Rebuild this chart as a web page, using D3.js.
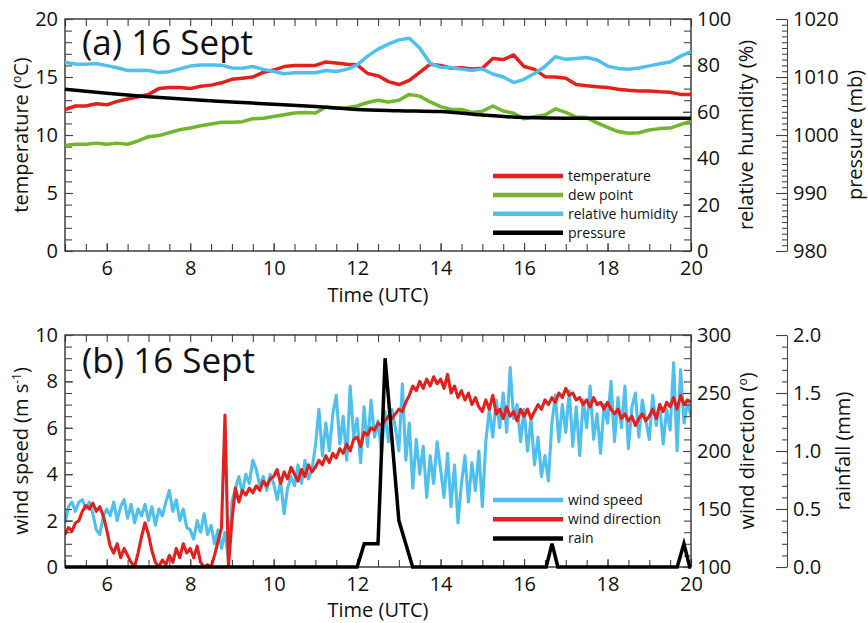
<!DOCTYPE html>
<html>
<head>
<meta charset="utf-8">
<script src="https://cdn.jsdelivr.net/npm/d3@7"></script>
<style>
body { margin: 0; background: #fff; }
text { font-family: "Open Sans", sans-serif; fill: #111; }
</style>
</head>
<body>
<svg id="chart" width="868" height="623"></svg>
<script>
// ---- panel (a): 15 minute values ----
var timeA = [5,5.25,5.5,5.75, 6,6.25,6.5,6.75, 7,7.25,7.5,7.75, 8,8.25,8.5,8.75,
  9,9.25,9.5,9.75, 10,10.25,10.5,10.75, 11,11.25,11.5,11.75, 12,12.25,12.5,12.75,
  13,13.25,13.5,13.75, 14,14.25,14.5,14.75, 15,15.25,15.5,15.75, 16,16.25,16.5,16.75,
  17,17.25,17.5,17.75, 18,18.25,18.5,18.75, 19,19.25,19.5,19.75, 20];
var temperature = [12.2,12.5,12.5,12.7, 12.6,12.9,13.1,13.3, 13.5,14.0,14.1,14.1, 14.0,14.2,14.3,14.5,
  14.8,14.9,15.0,15.4, 15.6,15.9,16.0,16.0, 16.0,16.3,16.2,16.1, 16.05,15.3,15.1,14.6,
  14.35,14.7,15.4,16.1, 16.0,15.75,15.8,15.7, 15.75,16.6,16.5,16.9, 15.9,15.66,15.03,15.0,
  14.9,14.35,14.25,14.15, 14.1,13.95,13.85,13.8, 13.8,13.72,13.68,13.5, 13.5];
var dewPoint = [9.1,9.2,9.2,9.3, 9.2,9.3,9.2,9.5, 9.85,9.95,10.2,10.45, 10.6,10.8,10.95,11.1,
  11.1,11.15,11.4,11.45, 11.6,11.75,11.9,11.95, 11.9,12.4,12.3,12.35, 12.5,12.8,13.0,12.85,
  13.0,13.5,13.35,12.85, 12.45,12.2,12.2,11.95, 12.05,12.5,12.07,11.87, 11.4,11.58,11.72,12.25,
  11.95,11.55,11.5,11.05, 10.65,10.3,10.15,10.2, 10.43,10.55,10.6,10.9, 11.2];
var humidity = [81.3,80.6,80.5,80.8, 79.9,79.0,77.8,77.9, 77.8,76.9,77.3,78.5, 79.7,80.2,80.2,80.1,
  78.9,78.8,79.5,78.3, 77.4,76.4,76.8,76.9, 76.8,77.8,77.4,78.3, 80.2,84.0,87.0,89.2,
  91.0,91.7,87.5,80.9, 79.2,79.0,78.4,77.8, 78.5,76.3,75.0,72.6, 74.0,76.5,79.5,83.7,
  82.6,83.0,83.4,82.3, 79.7,78.7,78.3,78.9, 79.8,80.7,81.5,84.0, 85.9];
var pressureTime = [5,6,7,8,9,10,11,12,13,14,15,16,17,18,19,20];
var pressure = [1007.9,1007.2,1006.6,1006.1,1005.7,1005.3,1004.9,1004.4,1004.2,1004.05,1003.45,1003.0,1002.9,1002.9,1002.9,1002.9];

// ---- panel (b): 5 minute wind values, one row per hour ----
var windStart = 5, windStep = 5 / 60;
var windSpeed = [
  1.9,2.6,2.8,2.4,2.8,2.9,2.5,2.8,2.3,1.6,1.4,2.2,
  2.5,2.2,2.8,2.0,2.6,2.9,2.1,2.7,1.9,2.5,2.2,2.7,
  2.0,2.6,1.8,2.5,2.2,2.8,3.3,2.4,2.9,2.0,2.5,1.7,
  1.6,1.2,2.0,1.5,2.3,1.4,1.8,1.0,1.6,0.8,1.5,0.3,
  2.8,3.4,3.9,3.2,4.0,3.6,4.6,4.2,3.5,3.9,3.3,4.0,
  3.6,2.9,3.7,2.3,3.4,3.9,3.5,4.4,3.6,4.6,3.8,4.2,
  5.2,6.8,4.8,6.2,5.0,6.6,7.4,5.3,6.5,4.6,7.8,5.6,
  6.4,4.5,6.9,5.2,7.2,5.6,6.3,4.9,6.7,5.4,6.8,6.0,
  5.0,7.9,4.6,6.2,3.4,5.5,4.0,5.2,3.0,4.8,3.6,5.4,
  4.2,3.0,4.9,2.6,4.4,1.9,3.6,4.8,2.8,4.5,3.3,5.0,
  2.6,5.4,6.8,5.6,7.2,6.0,7.5,5.8,8.6,6.4,7.0,5.4,
  6.8,5.0,6.4,4.4,5.6,3.9,4.8,3.7,6.2,7.4,5.4,7.0,
  5.8,7.6,5.2,6.9,4.8,7.2,6.0,7.8,5.5,6.6,4.9,7.0,
  6.2,8.0,5.4,7.3,6.0,7.8,5.1,6.9,7.5,5.6,7.2,6.3,
  5.5,7.4,6.1,7.0,5.3,6.8,5.9,8.8,5.0,8.5,6.2,7.1,
  6.5];
var windDir = [
  128,134,131,138,140,148,153,150,155,148,152,144,
  132,118,112,120,108,116,110,104,100,112,126,138,
  128,114,104,100,106,102,110,104,116,108,120,112,
  116,108,118,104,100,102,100,110,122,134,231,100,
  140,168,156,166,162,168,164,170,166,174,170,176,
  178,184,172,182,176,186,180,174,184,178,188,182,
  186,192,188,196,190,198,194,202,198,206,200,210,
  212,204,216,214,220,218,224,222,226,230,228,232,
  236,234,242,248,256,252,260,254,262,256,264,258,
  262,254,266,250,256,246,252,244,250,240,246,238,
  234,244,236,248,232,236,228,238,230,234,226,236,
  230,236,228,234,240,236,244,240,246,242,250,246,
  254,248,250,244,246,240,244,238,246,240,242,236,
  242,236,232,236,228,232,226,230,222,228,232,226,
  230,236,228,240,234,242,238,246,236,248,240,244,
  242];
var rainTime = [5,12.0,12.17,12.5,12.67,13.0,13.33,16.53,16.67,16.81,19.67,19.83,19.97,20];
var rain = [0,0,0.2,0.2,1.8,0.4,0,0,0.2,0,0,0.2,0,0];

var hourLabels = [6,8,10,12,14,16,18,20];

var RED = '#e3201b', GREEN = '#72b62c', BLUE = '#4fc0ee', BLACK = '#000';
var FONT = '"Open Sans", sans-serif';

var svg = d3.select('#chart');
var left = 65, right = 691;
var x = d3.scaleLinear().domain([5, 20]).range([left, right]);

function styleAxis(g) {
  g.attr('font-family', FONT).attr('font-size', 20);
  g.selectAll('line').attr('stroke', '#444').attr('stroke-width', 1.1);
  g.selectAll('text').attr('fill', '#111');
}
function noDomain(g) { g.select('.domain').remove(); }

// frame + x axes (ticks inside on top and bottom)
function drawFrame(top, bottom) {
  var minor = d3.range(5, 20.01, 0.5);
  svg.append('g').attr('transform', 'translate(0,' + bottom + ')')
    .call(d3.axisBottom(x).tickValues(minor).tickSize(-7).tickFormat(''))
    .call(noDomain).call(styleAxis);
  svg.append('g').attr('transform', 'translate(0,' + bottom + ')')
    .call(d3.axisBottom(x).tickValues(hourLabels).tickSize(-8).tickPadding(10).tickFormat(d3.format('d')))
    .call(noDomain).call(styleAxis);
  svg.append('g').attr('transform', 'translate(0,' + top + ')')
    .call(d3.axisTop(x).tickValues(minor).tickSize(-7).tickFormat(''))
    .call(noDomain).call(styleAxis);
  svg.append('rect').attr('x', left).attr('y', top)
    .attr('width', right - left).attr('height', bottom - top)
    .attr('fill', 'none').attr('stroke', '#222').attr('stroke-width', 1.3);
}

// inner y axis on the frame: side = 'left' or 'right'
function innerAxis(scale, side, major, minor, fmt) {
  var xpos = side === 'left' ? left : right;
  var mk = side === 'left' ? d3.axisLeft : d3.axisRight;
  svg.append('g').attr('transform', 'translate(' + xpos + ',0)')
    .call(mk(scale).tickValues(minor).tickSize(-7).tickFormat(''))
    .call(noDomain).call(styleAxis);
  svg.append('g').attr('transform', 'translate(' + xpos + ',0)')
    .call(mk(scale).tickValues(major).tickSize(-8).tickPadding(side === 'left' ? 7 : 6).tickFormat(fmt))
    .call(noDomain).call(styleAxis);
}

// detached axis further right, ticks pointing left
function outerAxis(scale, xpos, major, minor, fmt) {
  svg.append('g').attr('transform', 'translate(' + xpos + ',0)')
    .call(d3.axisRight(scale).tickValues(minor).tickSize(-5).tickSizeOuter(0).tickFormat(''))
    .call(styleAxis);
  svg.append('g').attr('transform', 'translate(' + xpos + ',0)')
    .call(d3.axisRight(scale).tickValues(major).tickSize(-11).tickSizeOuter(0).tickPadding(6).tickFormat(fmt))
    .call(noDomain).call(styleAxis);
  svg.selectAll('.domain').attr('stroke', '#444');
}

function vTitle(xb, cy, parts) {
  var t = svg.append('text')
    .attr('transform', 'translate(' + xb + ',' + cy + ') rotate(-90)')
    .attr('text-anchor', 'middle').attr('font-size', 20);
  parts.forEach(function (p) {
    var s = t.append('tspan').text(p[0]);
    if (p[1]) s.attr('font-size', 12).attr('baseline-shift', '55%');
  });
}

function legend(items, x0, y0, dy) {
  items.forEach(function (it, i) {
    var y = y0 + i * dy;
    svg.append('line').attr('x1', x0).attr('x2', x0 + 70).attr('y1', y).attr('y2', y)
      .attr('stroke', it[1]).attr('stroke-width', 4.5);
    svg.append('text').attr('x', x0 + 75).attr('y', y + 5).attr('font-size', 14).text(it[0]);
  });
}

// ===================== panel (a) =====================
var aTop = 19, aBot = 251, aMid = (aTop + aBot) / 2;
var yT = d3.scaleLinear().domain([0, 20]).range([aBot, aTop]);
var yRH = d3.scaleLinear().domain([0, 100]).range([aBot, aTop]);
var yP = d3.scaleLinear().domain([980, 1020]).range([aBot, aTop]);

drawFrame(aTop, aBot);
innerAxis(yT, 'left', d3.range(0, 21, 5), d3.range(0, 21, 1), d3.format('d'));
innerAxis(yRH, 'right', d3.range(0, 101, 20), d3.range(0, 101, 5), d3.format('d'));
outerAxis(yP, 787, d3.range(980, 1021, 10), d3.range(980, 1021, 1), d3.format('d'));

var lineA = function (ys, vals) {
  return d3.line().x(function (d, i) { return x(timeA[i]); })
    .y(function (d) { return ys(d); })(vals);
};
svg.append('path').attr('d', lineA(yT, temperature)).attr('fill', 'none')
  .attr('stroke', RED).attr('stroke-width', 3.5).attr('stroke-linejoin', 'round');
svg.append('path').attr('d', lineA(yT, dewPoint)).attr('fill', 'none')
  .attr('stroke', GREEN).attr('stroke-width', 3.5).attr('stroke-linejoin', 'round');
svg.append('path').attr('d', lineA(yRH, humidity)).attr('fill', 'none')
  .attr('stroke', BLUE).attr('stroke-width', 3.5).attr('stroke-linejoin', 'round');
svg.append('path')
  .attr('d', d3.line().curve(d3.curveMonotoneX)
    .x(function (d, i) { return x(pressureTime[i]); })
    .y(function (d) { return yP(d); })(pressure))
  .attr('fill', 'none').attr('stroke', BLACK).attr('stroke-width', 3.5);

svg.append('text').attr('x', 82).attr('y', 55).attr('font-size', 35).text('(a) 16 Sept');
legend([['temperature', RED], ['dew point', GREEN], ['relative humidity', BLUE], ['pressure', BLACK]], 493, 176, 18.9);

vTitle(28, aMid, [['temperature ('], ['o', true], ['C)']]);
vTitle(753, aMid, [['relative humidity (%)']]);
vTitle(862, aMid, [['pressure (mb)']]);
svg.append('text').attr('x', (left + right) / 2).attr('y', 302).attr('text-anchor', 'middle')
  .attr('font-size', 20).text('Time (UTC)');

// ===================== panel (b) =====================
var bTop = 335, bBot = 567, bMid = (bTop + bBot) / 2;
var yWS = d3.scaleLinear().domain([0, 10]).range([bBot, bTop]);
var yWD = d3.scaleLinear().domain([100, 300]).range([bBot, bTop]);
var yR = d3.scaleLinear().domain([0, 2]).range([bBot, bTop]);

svg.append('clipPath').attr('id', 'clipB').append('rect')
  .attr('x', left).attr('y', bTop).attr('width', right - left).attr('height', bBot - bTop);

var windLine = function (ys) {
  return d3.line().x(function (d, i) { return x(windStart + i * windStep); })
    .y(function (d) { return ys(d); });
};
svg.append('path').attr('d', windLine(yWS)(windSpeed)).attr('clip-path', 'url(#clipB)')
  .attr('fill', 'none').attr('stroke', BLUE).attr('stroke-width', 3.1).attr('stroke-linejoin', 'round');
svg.append('path').attr('d', windLine(yWD)(windDir)).attr('clip-path', 'url(#clipB)')
  .attr('fill', 'none').attr('stroke', RED).attr('stroke-width', 3.1).attr('stroke-linejoin', 'round');

drawFrame(bTop, bBot);
innerAxis(yWS, 'left', d3.range(0, 11, 2), d3.range(0, 10.01, 0.5), d3.format('d'));
innerAxis(yWD, 'right', d3.range(100, 301, 50), d3.range(100, 301, 10), d3.format('d'));
outerAxis(yR, 787, d3.range(0, 2.01, 0.5), d3.range(0, 2.001, 0.1), d3.format('.1f'));

svg.append('path')
  .attr('d', d3.line().x(function (d, i) { return x(rainTime[i]); })
    .y(function (d) { return yR(d); })(rain))
  .attr('fill', 'none').attr('stroke', BLACK).attr('stroke-width', 3.5).attr('stroke-linejoin', 'miter');

svg.append('text').attr('x', 82).attr('y', 373).attr('font-size', 35).text('(b) 16 Sept');
legend([['wind speed', BLUE], ['wind direction', RED], ['rain', BLACK]], 493, 500, 19.2);

vTitle(28, bMid, [['wind speed (m s'], ['-1', true], [')']]);
vTitle(754, bMid, [['wind direction ('], ['o', true], [')']]);
vTitle(850, bMid, [['rainfall (mm)']]);
svg.append('text').attr('x', (left + right) / 2).attr('y', 617).attr('text-anchor', 'middle')
  .attr('font-size', 20).text('Time (UTC)');
</script>
</body>
</html>
